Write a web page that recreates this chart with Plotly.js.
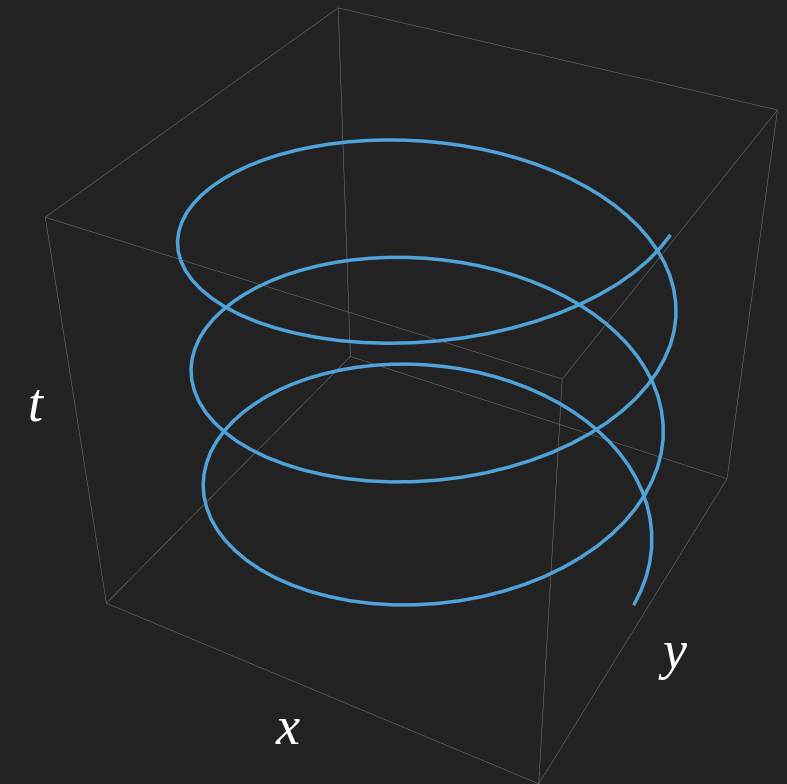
<!DOCTYPE html>
<html>
<head>
<meta charset="utf-8">
<script src="https://cdn.plot.ly/plotly-3.0.1.min.js"></script>
<style>
  html, body { margin: 0; padding: 0; background: #222222; overflow: hidden; width: 787px; height: 784px; }
  #wrap { position: relative; width: 787px; height: 784px; overflow: hidden; }
  #plot { position: absolute; }
</style>
</head>
<body>
<div id="wrap"><div id="plot"></div></div>
<script>
// Helix samples every 5 degrees: parameter t and the point (x, y) = (cos t, sin t), three turns.
const tVals = [
  0, 0.087, 0.175, 0.262, 0.349, 0.436, 0.524, 0.611, 0.698, 0.785, 0.873, 0.960,
  1.047, 1.134, 1.222, 1.309, 1.396, 1.484, 1.571, 1.658, 1.745, 1.833, 1.920, 2.007,
  2.094, 2.182, 2.269, 2.356, 2.443, 2.531, 2.618, 2.705, 2.793, 2.880, 2.967, 3.054,
  3.142, 3.229, 3.316, 3.403, 3.491, 3.578, 3.665, 3.752, 3.840, 3.927, 4.014, 4.102,
  4.189, 4.276, 4.363, 4.451, 4.538, 4.625, 4.712, 4.800, 4.887, 4.974, 5.061, 5.149,
  5.236, 5.323, 5.411, 5.498, 5.585, 5.672, 5.760, 5.847, 5.934, 6.021, 6.109, 6.196,
  6.283, 6.370, 6.458, 6.545, 6.632, 6.720, 6.807, 6.894, 6.981, 7.069, 7.156, 7.243,
  7.330, 7.418, 7.505, 7.592, 7.679, 7.767, 7.854, 7.941, 8.029, 8.116, 8.203, 8.290,
  8.378, 8.465, 8.552, 8.639, 8.727, 8.814, 8.901, 8.988, 9.076, 9.163, 9.250, 9.338,
  9.425, 9.512, 9.599, 9.687, 9.774, 9.861, 9.948, 10.036, 10.123, 10.210, 10.297, 10.385,
  10.472, 10.559, 10.647, 10.734, 10.821, 10.908, 10.996, 11.083, 11.170, 11.257, 11.345, 11.432,
  11.519, 11.606, 11.694, 11.781, 11.868, 11.956, 12.043, 12.130, 12.217, 12.305, 12.392, 12.479,
  12.566, 12.654, 12.741, 12.828, 12.915, 13.003, 13.090, 13.177, 13.265, 13.352, 13.439, 13.526,
  13.614, 13.701, 13.788, 13.875, 13.963, 14.050, 14.137, 14.224, 14.312, 14.399, 14.486, 14.574,
  14.661, 14.748, 14.835, 14.923, 15.010, 15.097, 15.184, 15.272, 15.359, 15.446, 15.533, 15.621,
  15.708, 15.795, 15.882, 15.970, 16.057, 16.144, 16.232, 16.319, 16.406, 16.493, 16.581, 16.668,
  16.755, 16.842, 16.930, 17.017, 17.104, 17.191, 17.279, 17.366, 17.453, 17.541, 17.628, 17.715,
  17.802, 17.890, 17.977, 18.064, 18.151, 18.239, 18.326, 18.413, 18.500, 18.588, 18.675, 18.762,
  18.850
];

const xVals = [
  1, 0.996, 0.985, 0.966, 0.940, 0.906, 0.866, 0.819, 0.766, 0.707, 0.643, 0.574,
  0.5, 0.423, 0.342, 0.259, 0.174, 0.087, 0, -0.087, -0.174, -0.259, -0.342, -0.423,
  -0.5, -0.574, -0.643, -0.707, -0.766, -0.819, -0.866, -0.906, -0.940, -0.966, -0.985, -0.996,
  -1, -0.996, -0.985, -0.966, -0.940, -0.906, -0.866, -0.819, -0.766, -0.707, -0.643, -0.574,
  -0.5, -0.423, -0.342, -0.259, -0.174, -0.087, 0, 0.087, 0.174, 0.259, 0.342, 0.423,
  0.5, 0.574, 0.643, 0.707, 0.766, 0.819, 0.866, 0.906, 0.940, 0.966, 0.985, 0.996,
  1, 0.996, 0.985, 0.966, 0.940, 0.906, 0.866, 0.819, 0.766, 0.707, 0.643, 0.574,
  0.5, 0.423, 0.342, 0.259, 0.174, 0.087, 0, -0.087, -0.174, -0.259, -0.342, -0.423,
  -0.5, -0.574, -0.643, -0.707, -0.766, -0.819, -0.866, -0.906, -0.940, -0.966, -0.985, -0.996,
  -1, -0.996, -0.985, -0.966, -0.940, -0.906, -0.866, -0.819, -0.766, -0.707, -0.643, -0.574,
  -0.5, -0.423, -0.342, -0.259, -0.174, -0.087, 0, 0.087, 0.174, 0.259, 0.342, 0.423,
  0.5, 0.574, 0.643, 0.707, 0.766, 0.819, 0.866, 0.906, 0.940, 0.966, 0.985, 0.996,
  1, 0.996, 0.985, 0.966, 0.940, 0.906, 0.866, 0.819, 0.766, 0.707, 0.643, 0.574,
  0.5, 0.423, 0.342, 0.259, 0.174, 0.087, 0, -0.087, -0.174, -0.259, -0.342, -0.423,
  -0.5, -0.574, -0.643, -0.707, -0.766, -0.819, -0.866, -0.906, -0.940, -0.966, -0.985, -0.996,
  -1, -0.996, -0.985, -0.966, -0.940, -0.906, -0.866, -0.819, -0.766, -0.707, -0.643, -0.574,
  -0.5, -0.423, -0.342, -0.259, -0.174, -0.087, 0, 0.087, 0.174, 0.259, 0.342, 0.423,
  0.5, 0.574, 0.643, 0.707, 0.766, 0.819, 0.866, 0.906, 0.940, 0.966, 0.985, 0.996,
  1
];

const yVals = [
  0, 0.087, 0.174, 0.259, 0.342, 0.423, 0.5, 0.574, 0.643, 0.707, 0.766, 0.819,
  0.866, 0.906, 0.940, 0.966, 0.985, 0.996, 1, 0.996, 0.985, 0.966, 0.940, 0.906,
  0.866, 0.819, 0.766, 0.707, 0.643, 0.574, 0.5, 0.423, 0.342, 0.259, 0.174, 0.087,
  0, -0.087, -0.174, -0.259, -0.342, -0.423, -0.5, -0.574, -0.643, -0.707, -0.766, -0.819,
  -0.866, -0.906, -0.940, -0.966, -0.985, -0.996, -1, -0.996, -0.985, -0.966, -0.940, -0.906,
  -0.866, -0.819, -0.766, -0.707, -0.643, -0.574, -0.5, -0.423, -0.342, -0.259, -0.174, -0.087,
  0, 0.087, 0.174, 0.259, 0.342, 0.423, 0.5, 0.574, 0.643, 0.707, 0.766, 0.819,
  0.866, 0.906, 0.940, 0.966, 0.985, 0.996, 1, 0.996, 0.985, 0.966, 0.940, 0.906,
  0.866, 0.819, 0.766, 0.707, 0.643, 0.574, 0.5, 0.423, 0.342, 0.259, 0.174, 0.087,
  0, -0.087, -0.174, -0.259, -0.342, -0.423, -0.5, -0.574, -0.643, -0.707, -0.766, -0.819,
  -0.866, -0.906, -0.940, -0.966, -0.985, -0.996, -1, -0.996, -0.985, -0.966, -0.940, -0.906,
  -0.866, -0.819, -0.766, -0.707, -0.643, -0.574, -0.5, -0.423, -0.342, -0.259, -0.174, -0.087,
  0, 0.087, 0.174, 0.259, 0.342, 0.423, 0.5, 0.574, 0.643, 0.707, 0.766, 0.819,
  0.866, 0.906, 0.940, 0.966, 0.985, 0.996, 1, 0.996, 0.985, 0.966, 0.940, 0.906,
  0.866, 0.819, 0.766, 0.707, 0.643, 0.574, 0.5, 0.423, 0.342, 0.259, 0.174, 0.087,
  0, -0.087, -0.174, -0.259, -0.342, -0.423, -0.5, -0.574, -0.643, -0.707, -0.766, -0.819,
  -0.866, -0.906, -0.940, -0.966, -0.985, -0.996, -1, -0.996, -0.985, -0.966, -0.940, -0.906,
  -0.866, -0.819, -0.766, -0.707, -0.643, -0.574, -0.5, -0.423, -0.342, -0.259, -0.174, -0.087,
  0
];

// Axis names drawn beside the box edges
const axisNames = ['x', 'y', 't'];

// Bounding box: the curve plus about 2% padding on every side
const xRange = [-1.0445, 1.0445];
const yRange = [-1.0445, 1.0445];
const tRange = [-0.42, 19.27];

// The scene extends 1% beyond the box so its edges are not clipped at the scene bounds
const SCENE_GROW = 1.01;
function grow(r) {
  const c = (r[0] + r[1]) / 2, h = (r[1] - r[0]) / 2 * SCENE_GROW;
  return [c - h, c + h];
}

const BG = '#222222';
const EDGE = '#7a7a7a';
const CURVE = '#4fa3d9';
const LABEL_FONT = { family: 'Liberation Serif, DejaVu Serif, serif', size: 54, color: '#ffffff' };

// The figure is rendered larger than the window and centred on the box,
// which narrows the field of view of the scene camera.
const FIG_H = 1386, FIG_W = 1391;
const BOX_CX = 430, BOX_CY = 365;          // where the box centre lands in the window
const OFF_L = BOX_CX - FIG_W / 2, OFF_T = BOX_CY - FIG_H / 2;
const plotDiv = document.getElementById('plot');
plotDiv.style.left = OFF_L + 'px';
plotDiv.style.top = OFF_T + 'px';

// window pixel -> paper coordinate of the enlarged figure
function paperX(px) { return (px - OFF_L) / FIG_W; }
function paperY(py) { return 1 - (py - OFF_T) / FIG_H; }

// One trace per edge of the bounding box
function boxEdgeTraces() {
  const [x0, x1] = xRange, [y0, y1] = yRange, [z0, z1] = tRange;
  const segs = [
    [[x0, y0, z0], [x1, y0, z0]], [[x0, y1, z0], [x1, y1, z0]],
    [[x0, y0, z1], [x1, y0, z1]], [[x0, y1, z1], [x1, y1, z1]],
    [[x0, y0, z0], [x0, y1, z0]], [[x1, y0, z0], [x1, y1, z0]],
    [[x0, y0, z1], [x0, y1, z1]], [[x1, y0, z1], [x1, y1, z1]],
    [[x0, y0, z0], [x0, y0, z1]], [[x1, y0, z0], [x1, y0, z1]],
    [[x0, y1, z0], [x0, y1, z1]], [[x1, y1, z0], [x1, y1, z1]]
  ];
  return segs.map(function (s) {
    return {
      type: 'scatter3d',
      mode: 'lines',
      x: [s[0][0], s[1][0]],
      y: [s[0][1], s[1][1]],
      z: [s[0][2], s[1][2]],
      line: { color: EDGE, width: 1 },
      hoverinfo: 'skip',
      showlegend: false
    };
  });
}

const helix = {
  type: 'scatter3d',
  mode: 'lines',
  x: xVals,
  y: yVals,
  z: tVals,
  line: { color: CURVE, width: 7 },
  hoverinfo: 'skip',
  showlegend: false
};

function hiddenAxis(range) {
  return {
    range: grow(range),
    autorange: false,
    showgrid: false,
    zeroline: false,
    showbackground: false,
    showticklabels: false,
    ticks: '',
    ticklen: 0,
    showspikes: false,
    showline: false,
    title: { text: '' }
  };
}

function label(text, px, py) {
  return {
    xref: 'paper', yref: 'paper', x: paperX(px), y: paperY(py),
    xanchor: 'center', yanchor: 'middle',
    text: '<i>' + text + '</i>', showarrow: false, font: LABEL_FONT
  };
}

const layout = {
  width: FIG_W,
  height: FIG_H,
  margin: { l: 0, r: 0, t: 0, b: 0 },
  paper_bgcolor: BG,
  plot_bgcolor: BG,
  showlegend: false,
  scene: {
    domain: { x: [0, 1], y: [0, 1] },
    bgcolor: BG,
    aspectmode: 'manual',
    aspectratio: { x: 1 * SCENE_GROW, y: 1 * SCENE_GROW, z: 0.94 * SCENE_GROW },
    xaxis: hiddenAxis(xRange),
    yaxis: hiddenAxis(yRange),
    zaxis: hiddenAxis(tRange),
    camera: {
      eye: { x: 1.3, y: -2.4, z: 2 },
      center: { x: 0, y: 0, z: 0 },
      up: { x: 0, y: 0, z: 1 },
      projection: { type: 'perspective' }
    }
  },
  annotations: [
    label(axisNames[0], 287, 726),
    label(axisNames[1], 672, 650),
    label(axisNames[2], 36, 403)
  ]
};

Plotly.newPlot(plotDiv, boxEdgeTraces().concat([helix]), layout, { displayModeBar: false });
</script>
</body>
</html>
